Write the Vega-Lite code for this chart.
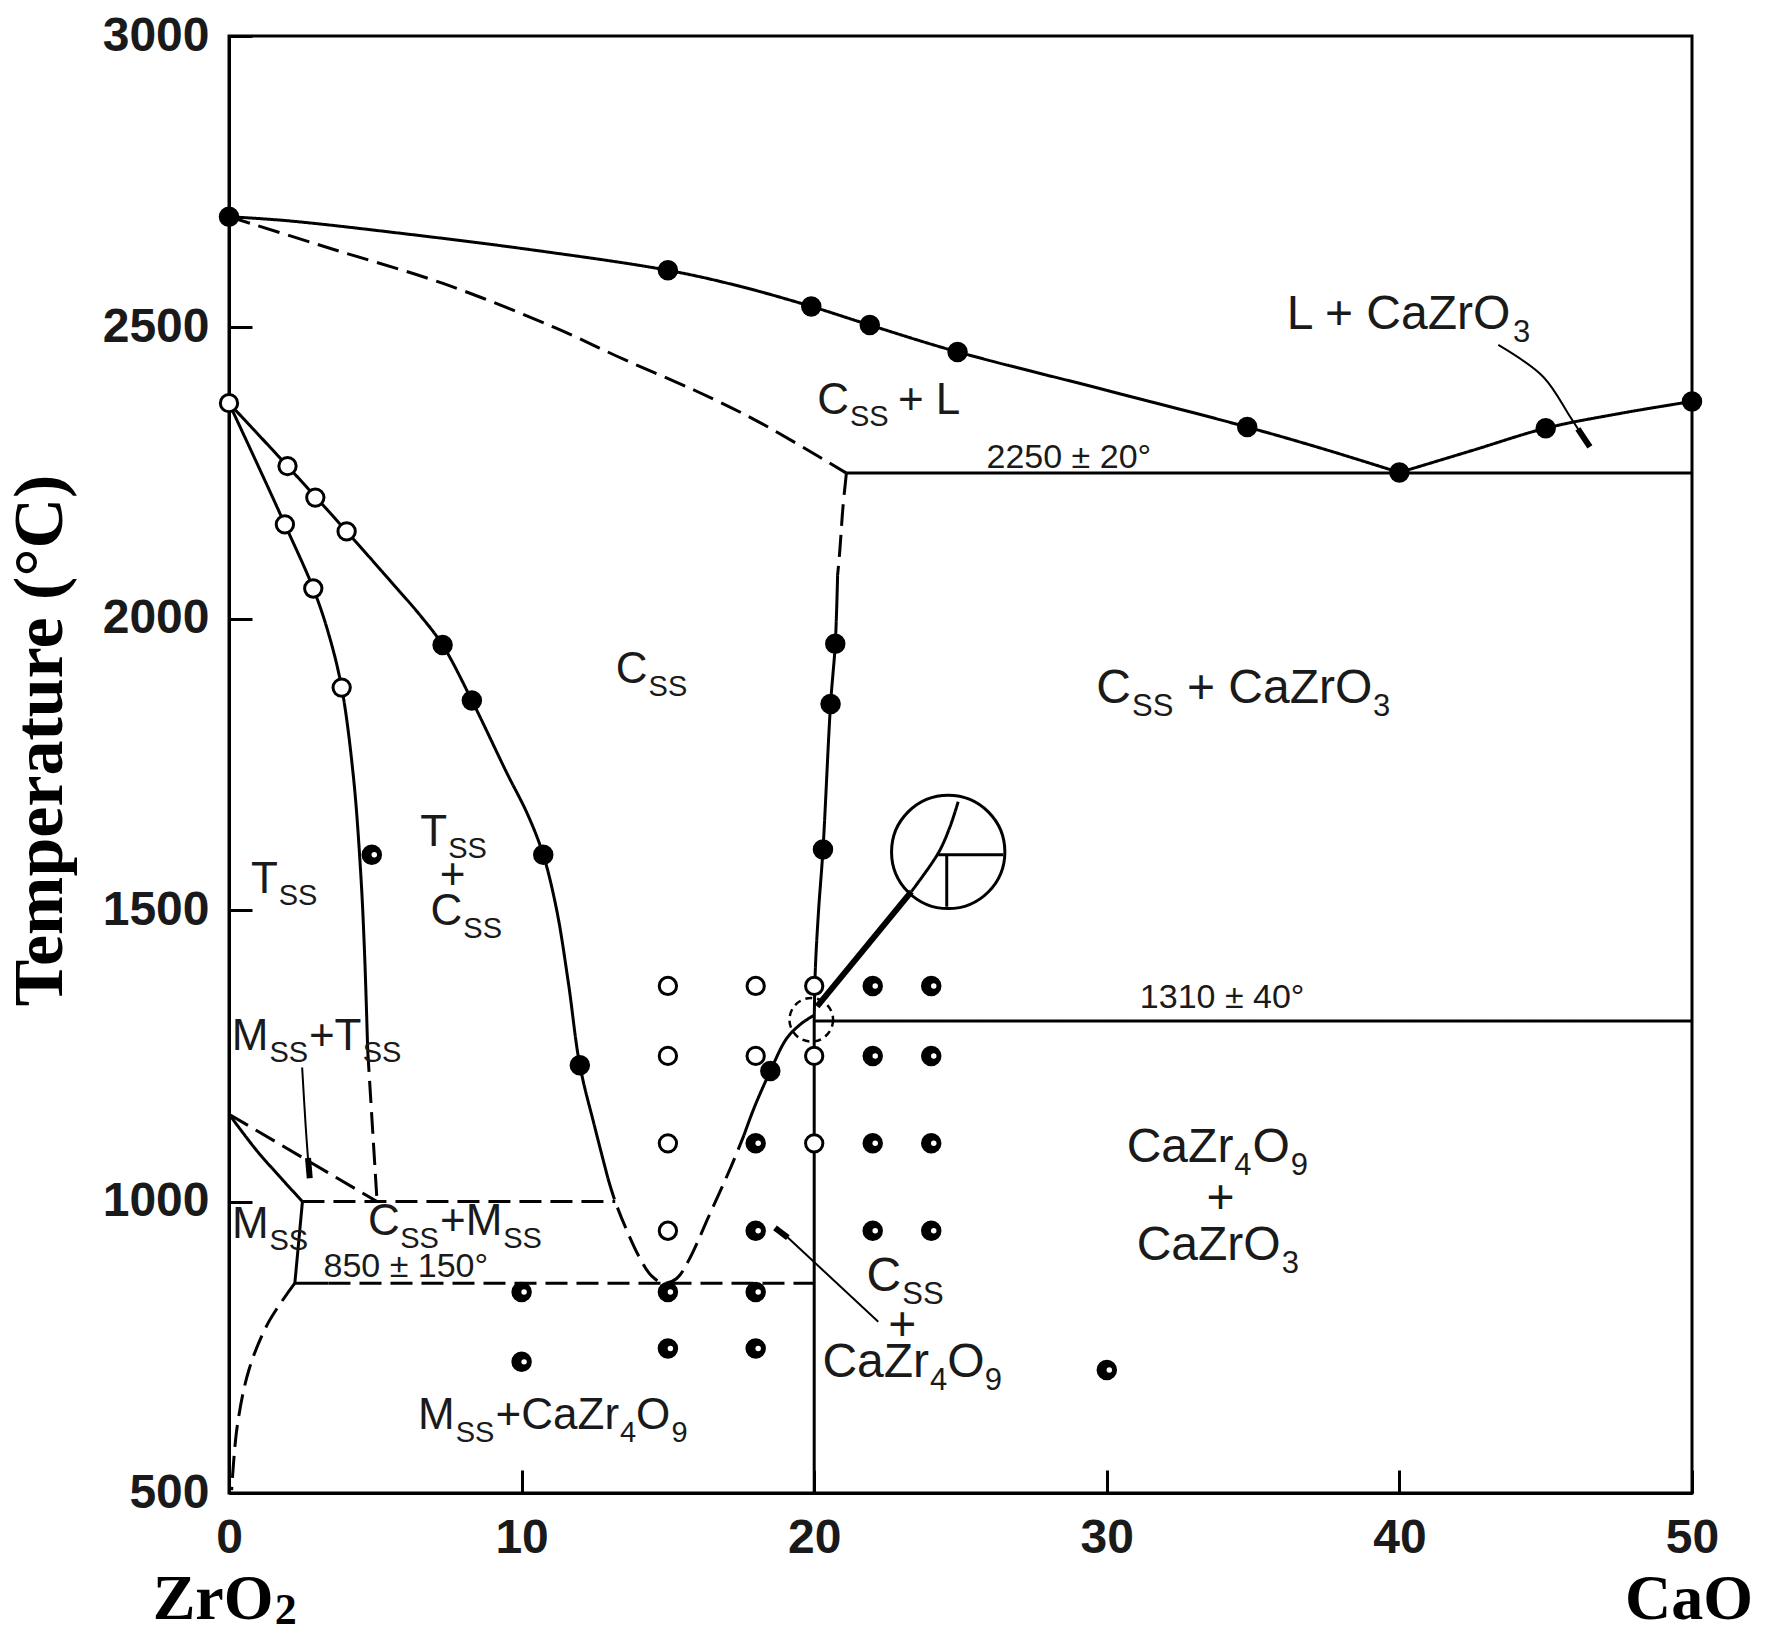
{
  "$schema": "https://vega.github.io/schema/vega-lite/v6.json",
  "width": 1463,
  "height": 1457,
  "autosize": {"type": "none"},
  "padding": {"left": 229, "top": 36, "right": 80, "bottom": 146},
  "background": "white",
  "config": {"view": {"stroke": "black", "strokeWidth": 3}},
  "datasets": {
    "curves": [
      {"id": "liq1", "k": "solid", "o": 1, "x": 0, "T": 2690},
      {"id": "liq1", "k": "solid", "o": 2, "x": 2, "T": 2683},
      {"id": "liq1", "k": "solid", "o": 3, "x": 5.78, "T": 2662},
      {"id": "liq1", "k": "solid", "o": 4, "x": 10.36, "T": 2633},
      {"id": "liq1", "k": "solid", "o": 5, "x": 15, "T": 2598},
      {"id": "liq1", "k": "solid", "o": 6, "x": 17.5, "T": 2570},
      {"id": "liq1", "k": "solid", "o": 7, "x": 19.9, "T": 2536},
      {"id": "liq1", "k": "solid", "o": 8, "x": 21.9, "T": 2504},
      {"id": "liq1", "k": "solid", "o": 9, "x": 24.9, "T": 2458},
      {"id": "liq1", "k": "solid", "o": 10, "x": 30, "T": 2392},
      {"id": "liq1", "k": "solid", "o": 11, "x": 34.8, "T": 2329},
      {"id": "liq1", "k": "solid", "o": 12, "x": 37.5, "T": 2290},
      {"id": "liq1", "k": "solid", "o": 13, "x": 40, "T": 2251},
      {"id": "liq2", "k": "solid", "o": 1, "x": 40, "T": 2251},
      {"id": "liq2", "k": "solid", "o": 2, "x": 42.5, "T": 2289},
      {"id": "liq2", "k": "solid", "o": 3, "x": 45, "T": 2327},
      {"id": "liq2", "k": "solid", "o": 4, "x": 47.5, "T": 2352},
      {"id": "liq2", "k": "solid", "o": 5, "x": 50, "T": 2373},
      {"id": "sol", "k": "dashed", "o": 1, "x": 0, "T": 2690},
      {"id": "sol", "k": "dashed", "o": 2, "x": 3.5, "T": 2635},
      {"id": "sol", "k": "dashed", "o": 3, "x": 7.34, "T": 2575},
      {"id": "sol", "k": "dashed", "o": 4, "x": 11.12, "T": 2500},
      {"id": "sol", "k": "dashed", "o": 5, "x": 13.5, "T": 2445},
      {"id": "sol", "k": "dashed", "o": 6, "x": 16, "T": 2390},
      {"id": "sol", "k": "dashed", "o": 7, "x": 18.1, "T": 2338},
      {"id": "sol", "k": "dashed", "o": 8, "x": 21.1, "T": 2250},
      {"id": "i2250", "k": "solid", "o": 1, "x": 21.1, "T": 2250},
      {"id": "i2250", "k": "solid", "o": 2, "x": 50, "T": 2250},
      {"id": "cbd", "k": "dashed", "o": 1, "x": 21.1, "T": 2250},
      {"id": "cbd", "k": "dashed", "o": 2, "x": 20.98, "T": 2190},
      {"id": "cbd", "k": "dashed", "o": 3, "x": 20.88, "T": 2120},
      {"id": "cbd", "k": "dashed", "o": 4, "x": 20.8, "T": 2075},
      {"id": "cbs", "k": "solid", "o": 1, "x": 20.8, "T": 2075},
      {"id": "cbs", "k": "solid", "o": 2, "x": 20.72, "T": 1957},
      {"id": "cbs", "k": "solid", "o": 3, "x": 20.56, "T": 1854},
      {"id": "cbs", "k": "solid", "o": 4, "x": 20.3, "T": 1604},
      {"id": "cbs", "k": "solid", "o": 5, "x": 20.15, "T": 1500},
      {"id": "cbs", "k": "solid", "o": 6, "x": 20.04, "T": 1400},
      {"id": "cbs", "k": "solid", "o": 7, "x": 20, "T": 1310},
      {"id": "i1310", "k": "solid", "o": 1, "x": 20, "T": 1310},
      {"id": "i1310", "k": "solid", "o": 2, "x": 50, "T": 1310},
      {"id": "v20", "k": "solid", "o": 1, "x": 20, "T": 1310},
      {"id": "v20", "k": "solid", "o": 2, "x": 20, "T": 500},
      {"id": "tLs", "k": "solid", "o": 1, "x": 0, "T": 2370},
      {"id": "tLs", "k": "solid", "o": 2, "x": 1, "T": 2262},
      {"id": "tLs", "k": "solid", "o": 3, "x": 1.91, "T": 2162},
      {"id": "tLs", "k": "solid", "o": 4, "x": 2.88, "T": 2052},
      {"id": "tLs", "k": "solid", "o": 5, "x": 3.4, "T": 1975},
      {"id": "tLs", "k": "solid", "o": 6, "x": 3.85, "T": 1882},
      {"id": "tLs", "k": "solid", "o": 7, "x": 4.25, "T": 1730},
      {"id": "tLs", "k": "solid", "o": 8, "x": 4.5, "T": 1565},
      {"id": "tLs", "k": "solid", "o": 9, "x": 4.63, "T": 1430},
      {"id": "tLs", "k": "solid", "o": 10, "x": 4.74, "T": 1260},
      {"id": "tLd", "k": "dashed", "o": 1, "x": 4.74, "T": 1260},
      {"id": "tLd", "k": "dashed", "o": 2, "x": 4.9, "T": 1130},
      {"id": "tLd", "k": "dashed", "o": 3, "x": 5.06, "T": 1000},
      {"id": "tRs", "k": "solid", "o": 1, "x": 0, "T": 2370},
      {"id": "tRs", "k": "solid", "o": 2, "x": 2, "T": 2262},
      {"id": "tRs", "k": "solid", "o": 3, "x": 4.02, "T": 2150},
      {"id": "tRs", "k": "solid", "o": 4, "x": 5.6, "T": 2060},
      {"id": "tRs", "k": "solid", "o": 5, "x": 6.5, "T": 2008},
      {"id": "tRs", "k": "solid", "o": 6, "x": 7.3, "T": 1955},
      {"id": "tRs", "k": "solid", "o": 7, "x": 8.3, "T": 1860},
      {"id": "tRs", "k": "solid", "o": 8, "x": 9.5, "T": 1735},
      {"id": "tRs", "k": "solid", "o": 9, "x": 10.2, "T": 1665},
      {"id": "tRs", "k": "solid", "o": 10, "x": 10.74, "T": 1595},
      {"id": "tRs", "k": "solid", "o": 11, "x": 11.2, "T": 1500},
      {"id": "tRs", "k": "solid", "o": 12, "x": 11.6, "T": 1375},
      {"id": "tRs", "k": "solid", "o": 13, "x": 11.99, "T": 1234},
      {"id": "tRs", "k": "solid", "o": 14, "x": 12.5, "T": 1128},
      {"id": "tRs", "k": "solid", "o": 15, "x": 12.95, "T": 1040},
      {"id": "Ud", "k": "dashed", "o": 1, "x": 12.95, "T": 1040},
      {"id": "Ud", "k": "dashed", "o": 2, "x": 13.2, "T": 1000},
      {"id": "Ud", "k": "dashed", "o": 3, "x": 13.6, "T": 950},
      {"id": "Ud", "k": "dashed", "o": 4, "x": 14.02, "T": 905},
      {"id": "Ud", "k": "dashed", "o": 5, "x": 14.45, "T": 872},
      {"id": "Ud", "k": "dashed", "o": 6, "x": 14.87, "T": 860},
      {"id": "Ud", "k": "dashed", "o": 7, "x": 15.3, "T": 868},
      {"id": "Ud", "k": "dashed", "o": 8, "x": 15.72, "T": 900},
      {"id": "Ud", "k": "dashed", "o": 9, "x": 16.4, "T": 975},
      {"id": "Ud", "k": "dashed", "o": 10, "x": 17.16, "T": 1060},
      {"id": "Ud", "k": "dashed", "o": 11, "x": 17.6, "T": 1114},
      {"id": "Us", "k": "solid", "o": 1, "x": 17.6, "T": 1114},
      {"id": "Us", "k": "solid", "o": 2, "x": 17.94, "T": 1160},
      {"id": "Us", "k": "solid", "o": 3, "x": 18.5, "T": 1224},
      {"id": "Us", "k": "solid", "o": 4, "x": 19.06, "T": 1280},
      {"id": "Us", "k": "solid", "o": 5, "x": 19.55, "T": 1305},
      {"id": "Us", "k": "solid", "o": 6, "x": 20, "T": 1320},
      {"id": "mTd", "k": "dashed", "o": 1, "x": 0, "T": 1150},
      {"id": "mTd", "k": "dashed", "o": 2, "x": 5.06, "T": 1000},
      {"id": "mTs", "k": "solid", "o": 1, "x": 0, "T": 1150},
      {"id": "mTs", "k": "solid", "o": 2, "x": 0.94, "T": 1088},
      {"id": "mTs", "k": "solid", "o": 3, "x": 1.73, "T": 1043},
      {"id": "mTs", "k": "solid", "o": 4, "x": 2.51, "T": 1000},
      {"id": "i1000", "k": "dashed", "o": 1, "x": 2.51, "T": 1000},
      {"id": "i1000", "k": "dashed", "o": 2, "x": 13.2, "T": 1000},
      {"id": "mv", "k": "solid", "o": 1, "x": 2.51, "T": 1000},
      {"id": "mv", "k": "solid", "o": 2, "x": 2.38, "T": 930},
      {"id": "mv", "k": "solid", "o": 3, "x": 2.25, "T": 860},
      {"id": "i850s", "k": "solid", "o": 1, "x": 2.25, "T": 860},
      {"id": "i850s", "k": "solid", "o": 2, "x": 3.4, "T": 860},
      {"id": "i850d", "k": "dashed", "o": 1, "x": 3.4, "T": 860},
      {"id": "i850d", "k": "dashed", "o": 2, "x": 20, "T": 860},
      {"id": "mlow", "k": "dashed", "o": 1, "x": 2.25, "T": 860},
      {"id": "mlow", "k": "dashed", "o": 2, "x": 1.33, "T": 791},
      {"id": "mlow", "k": "dashed", "o": 3, "x": 0.68, "T": 711},
      {"id": "mlow", "k": "dashed", "o": 4, "x": 0.28, "T": 614},
      {"id": "mlow", "k": "dashed", "o": 5, "x": 0.09, "T": 505},
      {"id": "leadM", "k": "thin", "o": 1, "x": 2.5, "T": 1230},
      {"id": "leadM", "k": "thin", "o": 2, "x": 2.62, "T": 1130},
      {"id": "leadM", "k": "thin", "o": 3, "x": 2.72, "T": 1060},
      {"id": "arrM", "k": "thick", "o": 1, "x": 2.7, "T": 1075},
      {"id": "arrM", "k": "thick", "o": 2, "x": 2.76, "T": 1040},
      {"id": "leadL", "k": "thin", "o": 1, "x": 43.38, "T": 2470},
      {"id": "leadL", "k": "thin", "o": 2, "x": 44.92, "T": 2415},
      {"id": "leadL", "k": "thin", "o": 3, "x": 45.83, "T": 2347},
      {"id": "leadL", "k": "thin", "o": 4, "x": 46.2, "T": 2318},
      {"id": "arrL", "k": "thick", "o": 1, "x": 46.1, "T": 2326},
      {"id": "arrL", "k": "thick", "o": 2, "x": 46.51, "T": 2295},
      {"id": "leadC", "k": "thin", "o": 1, "x": 22.19, "T": 794},
      {"id": "leadC", "k": "thin", "o": 2, "x": 19.06, "T": 940},
      {"id": "arrC", "k": "thick", "o": 1, "x": 19.1, "T": 938},
      {"id": "arrC", "k": "thick", "o": 2, "x": 18.66, "T": 955},
      {"id": "leadJ", "k": "thick", "o": 1, "x": 20.1, "T": 1335},
      {"id": "leadJ", "k": "thick", "o": 2, "x": 23.32, "T": 1532},
      {"id": "inc", "k": "solid", "o": 1, "x": 23.32, "T": 1532},
      {"id": "inc", "k": "solid", "o": 2, "x": 24.24, "T": 1598},
      {"id": "inc", "k": "solid", "o": 3, "x": 24.64, "T": 1643},
      {"id": "inc", "k": "solid", "o": 4, "x": 24.92, "T": 1686},
      {"id": "inh", "k": "solid", "o": 1, "x": 24.24, "T": 1595},
      {"id": "inh", "k": "solid", "o": 2, "x": 26.46, "T": 1595},
      {"id": "inv", "k": "solid", "o": 1, "x": 24.53, "T": 1595},
      {"id": "inv", "k": "solid", "o": 2, "x": 24.53, "T": 1506}
    ],
    "pts": [
      {"type": "open", "x": 0, "T": 2370},
      {"type": "open", "x": 2.0, "T": 2262},
      {"type": "open", "x": 2.95, "T": 2208},
      {"type": "open", "x": 4.02, "T": 2150},
      {"type": "open", "x": 1.91, "T": 2162},
      {"type": "open", "x": 2.88, "T": 2052},
      {"type": "open", "x": 3.85, "T": 1882},
      {"type": "open", "x": 15, "T": 1370},
      {"type": "open", "x": 15, "T": 1250},
      {"type": "open", "x": 15, "T": 1100},
      {"type": "open", "x": 15, "T": 950},
      {"type": "open", "x": 18, "T": 1370},
      {"type": "open", "x": 18, "T": 1250},
      {"type": "open", "x": 20, "T": 1370},
      {"type": "open", "x": 20, "T": 1250},
      {"type": "open", "x": 20, "T": 1100},
      {"type": "filled", "x": 0, "T": 2690},
      {"type": "filled", "x": 15, "T": 2598},
      {"type": "filled", "x": 19.9, "T": 2536},
      {"type": "filled", "x": 21.9, "T": 2504},
      {"type": "filled", "x": 24.9, "T": 2458},
      {"type": "filled", "x": 34.8, "T": 2329},
      {"type": "filled", "x": 40, "T": 2251},
      {"type": "filled", "x": 45, "T": 2327},
      {"type": "filled", "x": 50, "T": 2373},
      {"type": "filled", "x": 7.3, "T": 1955},
      {"type": "filled", "x": 8.3, "T": 1860},
      {"type": "filled", "x": 10.74, "T": 1595},
      {"type": "filled", "x": 11.99, "T": 1234},
      {"type": "filled", "x": 20.72, "T": 1957},
      {"type": "filled", "x": 20.56, "T": 1854},
      {"type": "filled", "x": 20.3, "T": 1604},
      {"type": "filled", "x": 18.5, "T": 1224},
      {"type": "half", "x": 4.88, "T": 1595},
      {"type": "half", "x": 18, "T": 1100},
      {"type": "half", "x": 18, "T": 950},
      {"type": "half", "x": 18, "T": 845},
      {"type": "half", "x": 18, "T": 748},
      {"type": "half", "x": 22, "T": 1370},
      {"type": "half", "x": 22, "T": 1250},
      {"type": "half", "x": 22, "T": 1100},
      {"type": "half", "x": 22, "T": 950},
      {"type": "half", "x": 24, "T": 1370},
      {"type": "half", "x": 24, "T": 1250},
      {"type": "half", "x": 24, "T": 1100},
      {"type": "half", "x": 24, "T": 950},
      {"type": "half", "x": 15, "T": 845},
      {"type": "half", "x": 15, "T": 748},
      {"type": "half", "x": 10, "T": 845},
      {"type": "half", "x": 10, "T": 725},
      {"type": "half", "x": 30, "T": 711},
      {"type": "inset", "x": 24.58, "T": 1600},
      {"type": "junction", "x": 19.9, "T": 1312}
    ],
    "labels": [
      {"role": "F", "x": 36.15, "T": 2497, "text": "L + CaZrO"},
      {"role": "fs", "x": 43.88, "T": 2475, "text": "3"},
      {"role": "G", "x": 20.10, "T": 2352, "text": "C"},
      {"role": "gs", "x": 21.22, "T": 2331, "text": "SS"},
      {"role": "G", "x": 22.86, "T": 2352, "text": "+ L"},
      {"role": "sm", "x": 25.89, "T": 2259, "text": "2250 ± 20°"},
      {"role": "G", "x": 13.22, "T": 1889, "text": "C"},
      {"role": "gs", "x": 14.34, "T": 1868, "text": "SS"},
      {"role": "F", "x": 29.64, "T": 1856, "text": "C"},
      {"role": "fs", "x": 30.86, "T": 1833, "text": "SS"},
      {"role": "F", "x": 32.74, "T": 1856, "text": "+ CaZrO"},
      {"role": "fs", "x": 39.10, "T": 1833, "text": "3"},
      {"role": "G", "x": 0.75, "T": 1530, "text": "T"},
      {"role": "gs", "x": 1.70, "T": 1509, "text": "SS"},
      {"role": "G", "x": 6.54, "T": 1610, "text": "T"},
      {"role": "gs", "x": 7.49, "T": 1590, "text": "SS"},
      {"role": "G", "x": 7.20, "T": 1536, "text": "+"},
      {"role": "G", "x": 6.89, "T": 1474, "text": "C"},
      {"role": "gs", "x": 8.01, "T": 1453, "text": "SS"},
      {"role": "sm", "x": 31.13, "T": 1332, "text": "1310 ± 40°"},
      {"role": "G", "x": 0.09, "T": 1260, "text": "M"},
      {"role": "gs", "x": 1.38, "T": 1240, "text": "SS"},
      {"role": "G", "x": 2.73, "T": 1260, "text": "+T"},
      {"role": "gs", "x": 4.57, "T": 1240, "text": "SS"},
      {"role": "F", "x": 30.68, "T": 1068, "text": "CaZr"},
      {"role": "fs", "x": 34.36, "T": 1046, "text": "4"},
      {"role": "F", "x": 34.98, "T": 1068, "text": "O"},
      {"role": "fs", "x": 36.29, "T": 1046, "text": "9"},
      {"role": "F", "x": 33.41, "T": 980, "text": "+"},
      {"role": "F", "x": 31.02, "T": 900, "text": "CaZrO"},
      {"role": "fs", "x": 35.98, "T": 877, "text": "3"},
      {"role": "G", "x": 0.1, "T": 937, "text": "M"},
      {"role": "gs", "x": 1.38, "T": 917, "text": "SS"},
      {"role": "G", "x": 4.75, "T": 942, "text": "C"},
      {"role": "gs", "x": 5.85, "T": 921, "text": "SS"},
      {"role": "G", "x": 7.21, "T": 942, "text": "+M"},
      {"role": "gs", "x": 9.37, "T": 921, "text": "SS"},
      {"role": "sm", "x": 3.23, "T": 870, "text": "850 ± 150°"},
      {"role": "F", "x": 21.79, "T": 847, "text": "C"},
      {"role": "fs", "x": 23.01, "T": 825, "text": "SS"},
      {"role": "F", "x": 22.53, "T": 763, "text": "+"},
      {"role": "F", "x": 20.28, "T": 699, "text": "CaZr"},
      {"role": "fs", "x": 23.96, "T": 676, "text": "4"},
      {"role": "F", "x": 24.55, "T": 699, "text": "O"},
      {"role": "fs", "x": 25.83, "T": 676, "text": "9"},
      {"role": "G", "x": 6.46, "T": 609, "text": "M"},
      {"role": "gs", "x": 7.75, "T": 588, "text": "SS"},
      {"role": "G", "x": 9.11, "T": 609, "text": "+CaZr"},
      {"role": "gs", "x": 13.36, "T": 588, "text": "4"},
      {"role": "G", "x": 13.91, "T": 609, "text": "O"},
      {"role": "gs", "x": 15.12, "T": 588, "text": "9"},
      {"role": "AX", "x": -2.61, "T": 284, "text": "ZrO"},
      {"role": "AXs", "x": 1.56, "T": 275, "text": "2"},
      {"role": "AX", "x": 47.71, "T": 284, "text": "CaO"}
    ]
  },
  "encoding": {
    "x": {
      "field": "x",
      "type": "quantitative",
      "scale": {"domain": [0, 50], "nice": false, "zero": false},
      "axis": {
        "title": null,
        "values": [0, 10, 20, 30, 40, 50],
        "format": "d",
        "grid": false,
        "domainColor": "black",
        "domainWidth": 3,
        "tickColor": "black",
        "tickWidth": 3,
        "tickSize": -23,
        "labelPadding": 44,
        "labelFont": "Liberation Sans",
        "labelFontWeight": "bold",
        "labelFontSize": 48,
        "labelColor": "#1a1a1a",
        "labelBaseline": "top",
        "labelFlush": false,
        "labelOverlap": false
      }
    },
    "y": {
      "field": "T",
      "type": "quantitative",
      "scale": {"domain": [500, 3000], "nice": false, "zero": false},
      "axis": {
        "title": "Temperature (°C)",
        "values": [500, 1000, 1500, 2000, 2500, 3000],
        "format": "d",
        "grid": false,
        "domainColor": "black",
        "domainWidth": 3,
        "tickColor": "black",
        "tickWidth": 3,
        "tickSize": -23,
        "labelPadding": 43,
        "labelFont": "Liberation Sans",
        "labelFontWeight": "bold",
        "labelFontSize": 48,
        "labelColor": "#1a1a1a",
        "labelAlign": "right",
        "labelBaseline": "middle",
        "labelFlush": false,
        "labelOverlap": false,
        "titleFont": "Liberation Serif",
        "titleFontWeight": "bold",
        "titleFontSize": 70,
        "titleColor": "black",
        "titleAngle": 270,
        "titleX": -168,
        "titleY": 704,
        "titleAlign": "center",
        "titleBaseline": "alphabetic"
      }
    }
  },
  "layer": [
    {
      "data": {"name": "curves"},
      "transform": [{"filter": "datum.k == 'solid' || datum.k == 'dashed'"}],
      "mark": {"type": "line", "interpolate": "catmull-rom", "strokeWidth": 3, "color": "black", "strokeCap": "butt"},
      "encoding": {
        "detail": {"field": "id"},
        "order": {"field": "o", "type": "quantitative"},
        "strokeDash": {"field": "k", "type": "nominal", "scale": {"domain": ["solid", "dashed"], "range": [[1, 0], [22, 9]]}, "legend": null}
      }
    },
    {
      "data": {"name": "curves"},
      "transform": [{"filter": "datum.k == 'thin'"}],
      "mark": {"type": "line", "interpolate": "catmull-rom", "strokeWidth": 2, "color": "black"},
      "encoding": {
        "detail": {"field": "id"},
        "order": {"field": "o", "type": "quantitative"}
      }
    },
    {
      "data": {"name": "curves"},
      "transform": [{"filter": "datum.k == 'thick'"}],
      "mark": {"type": "line", "strokeWidth": 6, "color": "black", "strokeCap": "butt"},
      "encoding": {
        "detail": {"field": "id"},
        "order": {"field": "o", "type": "quantitative"}
      }
    },
    {
      "data": {"name": "pts"},
      "transform": [{"filter": "datum.type == 'inset'"}],
      "mark": {"type": "point", "shape": "circle", "filled": false, "size": 12840, "stroke": "black", "strokeWidth": 3, "opacity": 1}
    },
    {
      "data": {"name": "pts"},
      "transform": [{"filter": "datum.type == 'junction'"}],
      "mark": {"type": "point", "shape": "circle", "filled": false, "size": 1900, "stroke": "black", "strokeWidth": 2.5, "strokeDash": [7, 5], "opacity": 1}
    },
    {
      "data": {"name": "pts"},
      "transform": [{"filter": "datum.type == 'open'"}],
      "mark": {"type": "point", "shape": "circle", "filled": true, "fill": "white", "size": 300, "stroke": "black", "strokeWidth": 3, "opacity": 1}
    },
    {
      "data": {"name": "pts"},
      "transform": [{"filter": "datum.type == 'filled' || datum.type == 'half'"}],
      "mark": {"type": "point", "shape": "circle", "filled": true, "fill": "black", "size": 420, "strokeWidth": 0, "opacity": 1}
    },
    {
      "data": {"name": "pts"},
      "transform": [{"filter": "datum.type == 'half'"}],
      "mark": {"type": "point", "shape": "circle", "filled": true, "fill": "white", "size": 30, "strokeWidth": 0, "opacity": 1, "xOffset": 2.5}
    },
    {
      "data": {"name": "labels"},
      "transform": [{"filter": "datum.role != 'AX' && datum.role != 'AXs'"}],
      "mark": {"type": "text", "align": "left", "baseline": "alphabetic", "font": "Liberation Sans", "color": "#1a1a1a"},
      "encoding": {
        "text": {"field": "text"},
        "size": {"field": "role", "type": "nominal", "scale": {"type": "ordinal", "domain": ["F", "G", "fs", "gs", "sm"], "range": [48, 44, 31, 29, 34]}, "legend": null}
      }
    },
    {
      "data": {"name": "labels"},
      "transform": [{"filter": "datum.role == 'AX'"}],
      "mark": {"type": "text", "align": "left", "baseline": "alphabetic", "font": "Liberation Serif", "fontWeight": "bold", "fontSize": 64, "color": "black"},
      "encoding": {"text": {"field": "text"}}
    },
    {
      "data": {"name": "labels"},
      "transform": [{"filter": "datum.role == 'AXs'"}],
      "mark": {"type": "text", "align": "left", "baseline": "alphabetic", "font": "Liberation Serif", "fontWeight": "bold", "fontSize": 44, "color": "black"},
      "encoding": {"text": {"field": "text"}}
    }
  ]
}
